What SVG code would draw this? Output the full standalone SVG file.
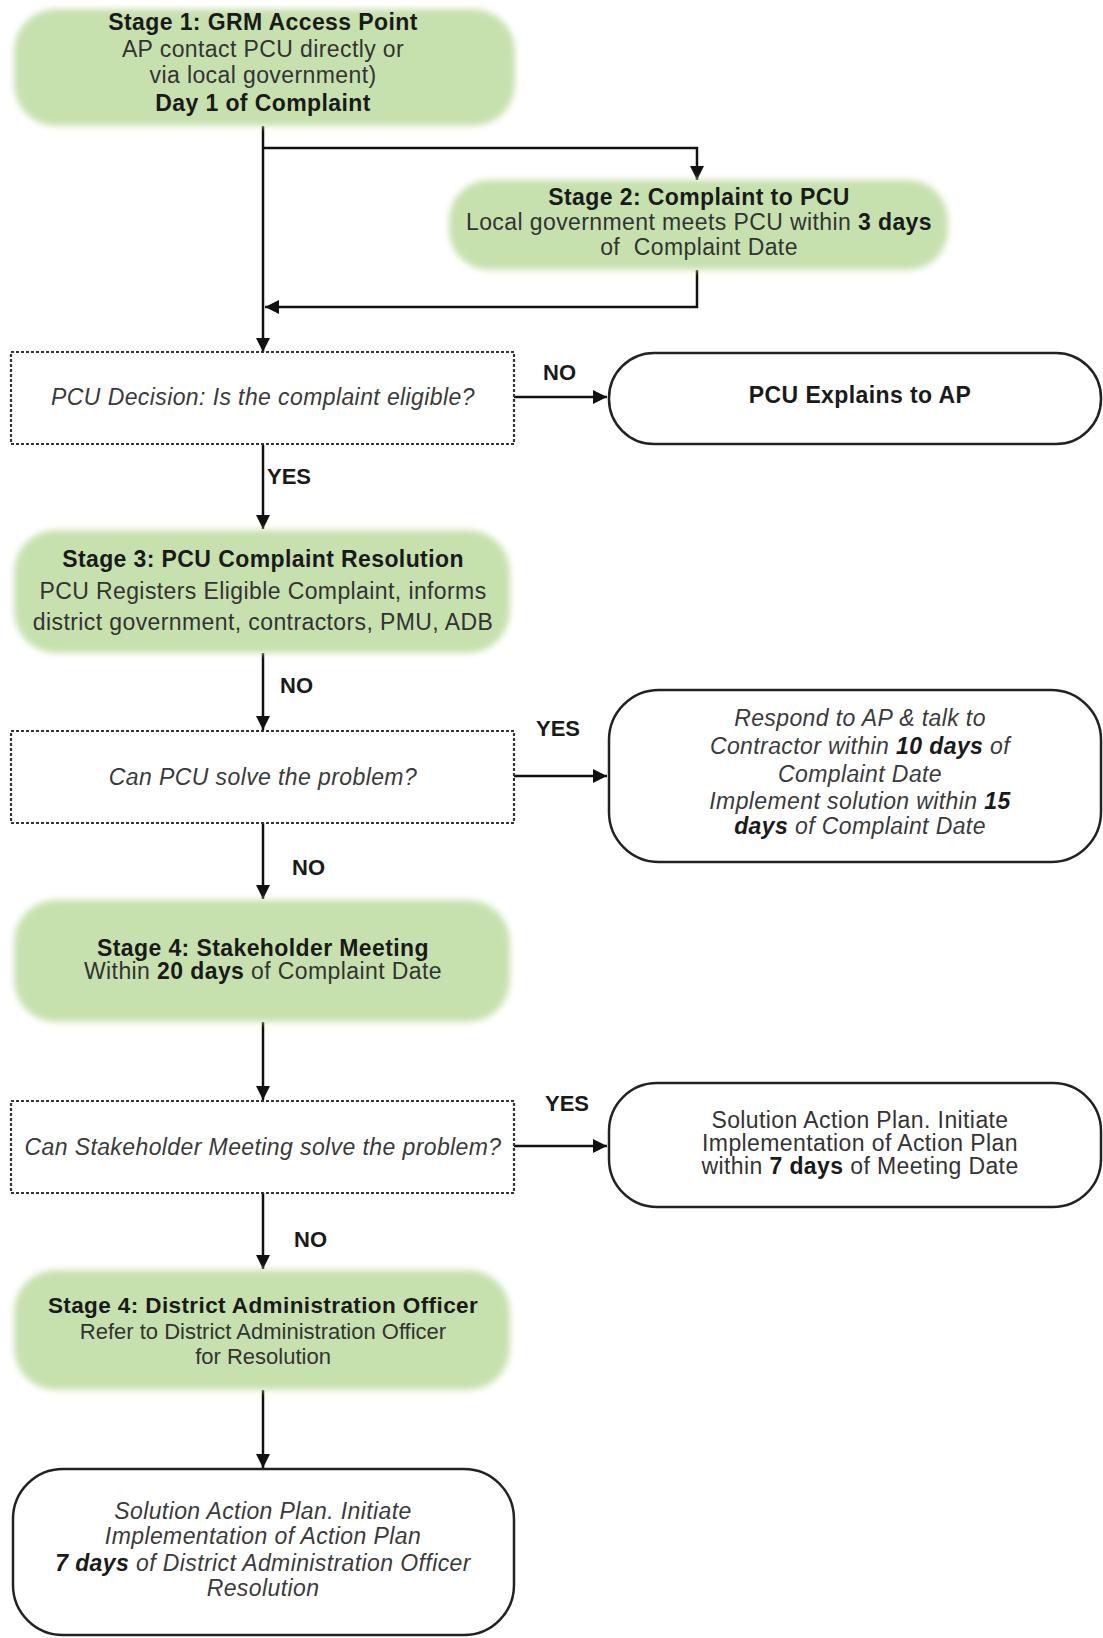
<svg xmlns="http://www.w3.org/2000/svg" width="1103" height="1638" viewBox="0 0 1103 1638">
<defs>
<filter id="soft" x="-5%" y="-10%" width="110%" height="120%">
<feGaussianBlur stdDeviation="3"/>
</filter>
<marker id="ah" viewBox="0 0 14 14" refX="14" refY="7" markerWidth="14" markerHeight="14" markerUnits="userSpaceOnUse" orient="auto">
<path d="M0,0 L14,7 L0,14 z" fill="#111"/>
</marker>
</defs>
<style>
text{font-family:"Liberation Sans",Arial,sans-serif;text-anchor:middle;letter-spacing:0.4px;}
.t{font-size:23px;font-weight:bold;fill:#1a1a1a;}
.b{font-size:23px;fill:#333;}
.i{font-size:23px;font-style:italic;fill:#3a3a3a;}
.lbl{font-size:22px;font-weight:bold;fill:#1a1a1a;text-anchor:start;letter-spacing:0;}
.g{fill:#c7e1ae;filter:url(#soft);}
.d{fill:#fff;stroke:#333;stroke-width:2.2;stroke-dasharray:3 2;}
.w{fill:#fff;stroke:#222;stroke-width:2.5;}
.c{fill:none;stroke:#111;stroke-width:2.5;}
.bo{font-weight:bold;fill:#1a1a1a;}
.n{font-size:22px;letter-spacing:0;}
</style>
<rect width="1103" height="1638" fill="#fff"/>

<g id="connectors">
<path class="c" d="M263,126 V352" marker-end="url(#ah)"/>
<path class="c" d="M263,148 H697 V180" marker-end="url(#ah)"/>
<path class="c" d="M697,270 V307 H265" marker-end="url(#ah)"/>
<path class="c" d="M514,397 H607" marker-end="url(#ah)"/>
<path class="c" d="M263,445 V529" marker-end="url(#ah)"/>
<path class="c" d="M263,653 V730" marker-end="url(#ah)"/>
<path class="c" d="M514,776 H607" marker-end="url(#ah)"/>
<path class="c" d="M263,823 V899" marker-end="url(#ah)"/>
<path class="c" d="M263,1022 V1100" marker-end="url(#ah)"/>
<path class="c" d="M514,1146 H607" marker-end="url(#ah)"/>
<path class="c" d="M263,1193 V1269" marker-end="url(#ah)"/>
<path class="c" d="M263,1390 V1468" marker-end="url(#ah)"/>
<text class="lbl" x="543" y="380">NO</text>
<text class="lbl" x="267" y="484">YES</text>
<text class="lbl" x="280" y="693">NO</text>
<text class="lbl" x="536" y="736">YES</text>
<text class="lbl" x="292" y="875">NO</text>
<text class="lbl" x="545" y="1111">YES</text>
<text class="lbl" x="294" y="1247">NO</text>
</g>

<g id="stage1">
<rect class="g" x="14" y="9" width="501" height="117" rx="42"/>
<text class="t" x="263" y="30">Stage 1: GRM Access Point</text>
<text class="b" x="263" y="57">AP contact PCU directly or</text>
<text class="b" x="263" y="83">via local government)</text>
<text class="t" x="263" y="111">Day 1 of Complaint</text>
</g>

<g id="stage2">
<rect class="g" x="449" y="180" width="499" height="90" rx="40"/>
<text class="t" x="699" y="205">Stage 2: Complaint to PCU</text>
<text class="b" x="699" y="230">Local government meets PCU within <tspan class="bo">3 days</tspan></text>
<text class="b" x="699" y="255">of&#160; Complaint Date</text>
</g>

<g id="decision1">
<rect class="d" x="11" y="352" width="503" height="92"/>
<text class="i" x="263" y="405">PCU Decision: Is the complaint eligible?</text>
</g>

<g id="explain">
<rect class="w" x="609" y="353" width="492" height="91" rx="45"/>
<text class="t" x="860" y="403">PCU Explains to AP</text>
</g>

<g id="stage3">
<rect class="g" x="14" y="530" width="496" height="123" rx="42"/>
<text class="t" x="263" y="567">Stage 3: PCU Complaint Resolution</text>
<text class="b" x="263" y="599">PCU Registers Eligible Complaint, informs</text>
<text class="b" x="263" y="630">district government, contractors, PMU, ADB</text>
</g>

<g id="decision2">
<rect class="d" x="11" y="731" width="503" height="92"/>
<text class="i" x="263" y="785">Can PCU solve the problem?</text>
</g>

<g id="respond">
<rect class="w" x="609" y="690" width="492" height="172" rx="50"/>
<text class="i" x="860" y="726">Respond to AP &amp; talk to</text>
<text class="i" x="860" y="754">Contractor within <tspan class="bo">10 days</tspan> of</text>
<text class="i" x="860" y="782">Complaint Date</text>
<text class="i" x="860" y="809">Implement solution within <tspan class="bo">15</tspan></text>
<text class="i" x="860" y="834"><tspan class="bo">days</tspan> of Complaint Date</text>
</g>

<g id="stage4">
<rect class="g" x="14" y="900" width="496" height="122" rx="42"/>
<text class="t" x="263" y="956">Stage 4: Stakeholder Meeting</text>
<text class="b" x="263" y="979">Within <tspan class="bo">20 days</tspan> of Complaint Date</text>
</g>

<g id="decision3">
<rect class="d" x="11" y="1101" width="503" height="92"/>
<text class="i" x="263" y="1155">Can Stakeholder Meeting solve the problem?</text>
</g>

<g id="solution1">
<rect class="w" x="609" y="1083" width="492" height="124" rx="48"/>
<text class="b" x="860" y="1128">Solution Action Plan. Initiate</text>
<text class="b" x="860" y="1151">Implementation of Action Plan</text>
<text class="b" x="860" y="1174">within <tspan class="bo">7 days</tspan> of Meeting Date</text>
</g>

<g id="stage4dao">
<rect class="g" x="14" y="1270" width="496" height="120" rx="42"/>
<text class="t" x="263" y="1313" style="font-size:22.5px">Stage 4: District Administration Officer</text>
<text class="b n" x="263" y="1339">Refer to District Administration Officer</text>
<text class="b n" x="263" y="1364">for Resolution</text>
</g>

<g id="final">
<rect class="w" x="13" y="1469" width="501" height="166" rx="50"/>
<text class="i" x="263" y="1519">Solution Action Plan. Initiate</text>
<text class="i" x="263" y="1544">Implementation of Action Plan</text>
<text class="i" x="263" y="1571"><tspan class="bo" font-style="italic">7 days</tspan> of District Administration Officer</text>
<text class="i" x="263" y="1596">Resolution</text>
</g>
</svg>
